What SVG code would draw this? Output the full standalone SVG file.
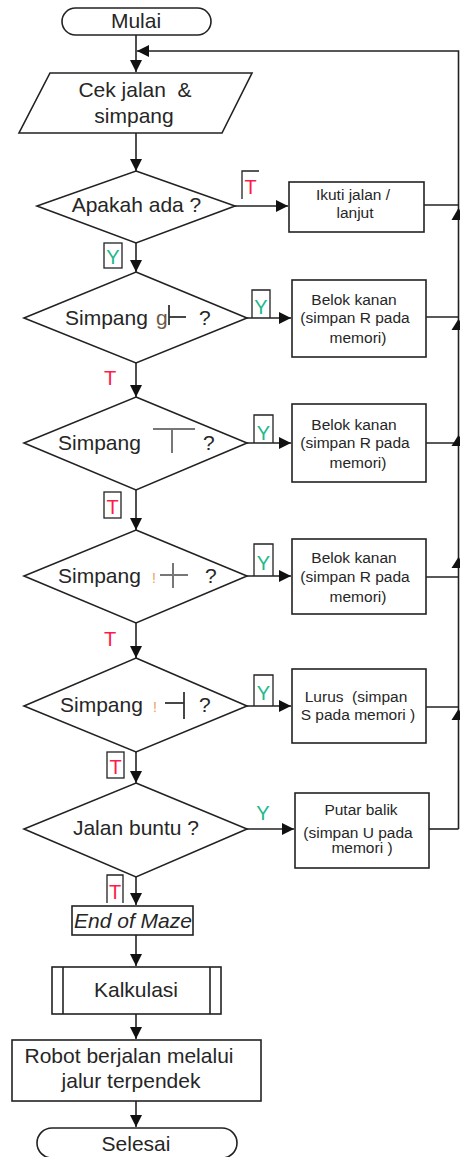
<svg xmlns="http://www.w3.org/2000/svg" width="460" height="1157" viewBox="0 0 460 1157">
<style>
.s{fill:#fff;stroke:#222;stroke-width:1.6}
.c{fill:none;stroke:#222;stroke-width:1.6}
.f{fill:none;stroke:#222;stroke-width:1.3}
.t{font-family:"Liberation Sans",Arial,sans-serif;font-size:21px;fill:#262626;text-anchor:middle}
.l{text-anchor:start}
.b{font-size:15.5px}
.red{fill:#ff1a48}
.grn{fill:#22b88c}
.lb{font-size:20px}
.ic{stroke:#777;stroke-width:2;fill:none}
.icd{stroke:#333;stroke-width:1.8;fill:none}
.frag{fill:#e8a060;font-size:14px;font-family:"Liberation Sans",Arial,sans-serif}
.ah{fill:#111}
</style>
<defs>
<marker id="a" markerUnits="userSpaceOnUse" markerWidth="13" markerHeight="13" refX="12" refY="6.5" orient="auto">
<path d="M0,0.5 L12,6.5 L0,12.5 z" fill="#111"/>
</marker>
</defs>

<g id="connectors">
<line class="c" x1="136" y1="35" x2="136" y2="72" marker-end="url(#a)"/>
<polyline class="c" points="458.5,829 458.5,51 137,51" marker-end="url(#a)"/>
<line class="c" x1="136" y1="133" x2="136" y2="171" marker-end="url(#a)"/>
<line class="c" x1="235" y1="206" x2="288" y2="206" marker-end="url(#a)"/>
<line class="c" x1="424" y1="205" x2="458.5" y2="205"/>
<line class="c" x1="136" y1="243" x2="136" y2="272" marker-end="url(#a)"/>
<line class="c" x1="247" y1="318" x2="291" y2="318" marker-end="url(#a)"/>
<line class="c" x1="426" y1="317" x2="458.5" y2="317"/>
<line class="c" x1="136" y1="363" x2="136" y2="397" marker-end="url(#a)"/>
<line class="c" x1="247" y1="443" x2="291" y2="443" marker-end="url(#a)"/>
<line class="c" x1="426" y1="443" x2="458.5" y2="443"/>
<line class="c" x1="136" y1="490" x2="136" y2="530" marker-end="url(#a)"/>
<line class="c" x1="247" y1="576" x2="291" y2="576" marker-end="url(#a)"/>
<line class="c" x1="426" y1="577" x2="458.5" y2="577"/>
<line class="c" x1="136" y1="623" x2="136" y2="658" marker-end="url(#a)"/>
<line class="c" x1="247" y1="706" x2="291" y2="706" marker-end="url(#a)"/>
<line class="c" x1="426" y1="707" x2="458.5" y2="707"/>
<line class="c" x1="136" y1="752" x2="136" y2="783" marker-end="url(#a)"/>
<line class="c" x1="247" y1="829" x2="294" y2="829" marker-end="url(#a)"/>
<line class="c" x1="429" y1="829" x2="458.5" y2="829"/>
<line class="c" x1="136" y1="877" x2="136" y2="905" marker-end="url(#a)"/>
<line class="c" x1="136" y1="935" x2="136" y2="966" marker-end="url(#a)"/>
<line class="c" x1="136" y1="1014" x2="136" y2="1039" marker-end="url(#a)"/>
<line class="c" x1="136" y1="1101" x2="136" y2="1127" marker-end="url(#a)"/>
<polygon class="ah" points="458.5,208 451.5,220 465.5,220"/>
<polygon class="ah" points="458.5,319 451.5,330 465.5,330"/>
<polygon class="ah" points="458.5,435 451.5,446 465.5,446"/>
<polygon class="ah" points="458.5,557 451.5,568 465.5,568"/>
<polygon class="ah" points="458.5,709 451.5,720 465.5,720"/>
</g>

<g id="labels">
<polyline class="f" points="242,199 242,171 259,171"/>
<text class="t lb red" x="250.5" y="194">T</text>
<rect class="f" x="104" y="243" width="18" height="25"/>
<text class="t lb grn" x="113" y="264">Y</text>
<polyline class="f" points="252,318 252,290 270,290 270,318"/>
<text class="t lb grn" x="261" y="314">Y</text>
<text class="t lb red" x="110" y="385">T</text>
<polyline class="f" points="254,443 254,415 273,415 273,443"/>
<text class="t lb grn" x="263.5" y="440">Y</text>
<rect class="f" x="104" y="492" width="17" height="26"/>
<text class="t lb red" x="112.5" y="514">T</text>
<polyline class="f" points="254,576 254,544 273,544 273,576"/>
<text class="t lb grn" x="263.5" y="570">Y</text>
<text class="t lb red" x="110" y="646">T</text>
<polyline class="f" points="254,706 254,675 273,675 273,706"/>
<text class="t lb grn" x="263.5" y="700">Y</text>
<rect class="f" x="107" y="752" width="17" height="26"/>
<text class="t lb red" x="115.5" y="774">T</text>
<text class="t lb grn" x="263" y="820">Y</text>
<polyline class="f" points="107,903 107,875 123,875 123,903"/>
<text class="t lb red" x="115" y="899">T</text>
</g>

<g id="mulai">
<rect class="s" x="62" y="8" width="149" height="27" rx="13.5"/>
<text class="t" x="136" y="28">Mulai</text>
</g>

<g id="cek">
<polygon class="s" points="50,73 252,73 222,133 19,133"/>
<text class="t" x="135" y="97" xml:space="preserve">Cek jalan  &amp;</text>
<text class="t" x="134" y="123">simpang</text>
</g>

<g id="apakah">
<polygon class="s" points="136,171 235,206 136,243 37,206"/>
<text class="t" x="136.5" y="212">Apakah ada ?</text>
</g>

<g id="ikuti">
<rect class="s" x="289" y="182" width="135" height="50"/>
<text class="t b" x="353" y="200">Ikuti jalan /</text>
<text class="t b" x="355" y="218">lanjut</text>
</g>

<g id="simpang1">
<polygon class="s" points="136,272 247,318 136,363 24,318"/>
<text class="t l" x="65" y="325">Simpang</text>
<text class="t l" x="156" y="325" style="fill:#6e5a48">g</text>
<line class="icd" x1="169" y1="305" x2="169" y2="325"/>
<line class="icd" x1="169" y1="317" x2="186" y2="317"/>
<text class="t l" x="199" y="325">?</text>
</g>

<g id="belok1">
<rect class="s" x="292" y="280" width="134" height="77"/>
<text class="t b" x="354" y="305">Belok kanan</text>
<text class="t b" x="355" y="323">(simpan R pada</text>
<text class="t b" x="358" y="343">memori)</text>
</g>

<g id="simpang2">
<polygon class="s" points="136,397 247,443 136,490 24,443"/>
<text class="t l" x="58" y="450">Simpang</text>
<line class="ic" x1="153" y1="429" x2="195" y2="429"/>
<line class="ic" x1="172" y1="429" x2="172" y2="453"/>
<text class="t l" x="203" y="450">?</text>
</g>

<g id="belok2">
<rect class="s" x="292" y="404" width="134" height="78"/>
<text class="t b" x="354" y="430">Belok kanan</text>
<text class="t b" x="355" y="448">(simpan R pada</text>
<text class="t b" x="358" y="468">memori)</text>
</g>

<g id="simpang3">
<polygon class="s" points="136,530 247,576 136,623 24,576"/>
<text class="t l" x="58" y="583">Simpang</text>
<text class="frag" x="152" y="583">!</text>
<line class="ic" x1="160" y1="575" x2="188" y2="575"/>
<line class="ic" x1="173" y1="563" x2="173" y2="588"/>
<text class="t l" x="205" y="583">?</text>
</g>

<g id="belok3">
<rect class="s" x="292" y="539" width="134" height="75"/>
<text class="t b" x="354" y="563">Belok kanan</text>
<text class="t b" x="355" y="582">(simpan R pada</text>
<text class="t b" x="358" y="602">memori)</text>
</g>

<g id="simpang4">
<polygon class="s" points="136,658 247,706 136,752 24,706"/>
<text class="t l" x="60" y="712">Simpang</text>
<text class="frag" x="153" y="712">!</text>
<line class="icd" x1="165" y1="703" x2="184" y2="703"/>
<line class="icd" x1="184" y1="692" x2="184" y2="719"/>
<text class="t l" x="199" y="712">?</text>
</g>

<g id="lurus">
<rect class="s" x="292" y="669" width="134" height="74"/>
<text class="t b" x="356" y="702" xml:space="preserve">Lurus  (simpan</text>
<text class="t b" x="358" y="720">S pada memori )</text>
</g>

<g id="buntu">
<polygon class="s" points="136,783 247,829 136,877 24,829"/>
<text class="t" x="136" y="835">Jalan buntu ?</text>
</g>

<g id="putar">
<rect class="s" x="295" y="793" width="134" height="75"/>
<text class="t b" x="361" y="815">Putar balik</text>
<text class="t b" x="358" y="838">(simpan U pada</text>
<text class="t b" x="362" y="853">memori )</text>
</g>

<g id="end">
<rect class="s" x="72" y="906" width="121" height="29"/>
<text class="t" x="133" y="928" font-style="italic">End of Maze</text>
</g>

<g id="kalkulasi">
<rect class="s" x="52" y="967" width="169" height="47"/>
<line class="c" x1="63" y1="967" x2="63" y2="1014"/>
<line class="c" x1="210" y1="967" x2="210" y2="1014"/>
<text class="t" x="136" y="997">Kalkulasi</text>
</g>

<g id="robot">
<rect class="s" x="12" y="1040" width="249" height="61"/>
<text class="t" x="129" y="1063">Robot berjalan melalui</text>
<text class="t" x="131" y="1088">jalur terpendek</text>
</g>

<g id="selesai">
<rect class="s" x="37" y="1128" width="200" height="30" rx="15"/>
<text class="t" x="136" y="1151">Selesai</text>
</g>
</svg>
